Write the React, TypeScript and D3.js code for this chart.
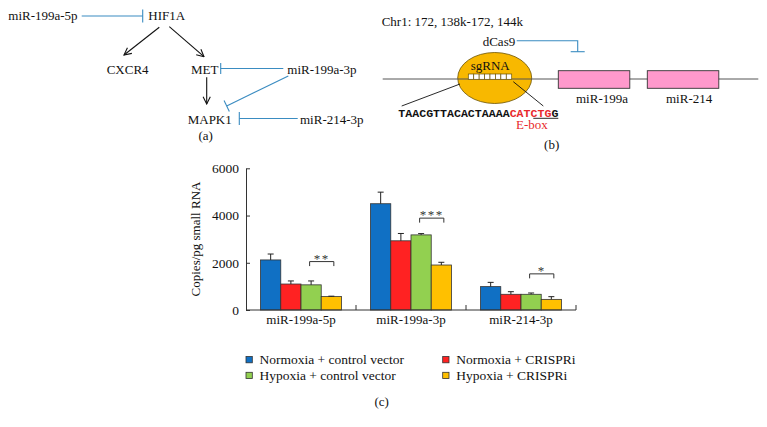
import React, { useRef, useEffect } from 'react';
import * as d3 from 'd3';

// chart data (panel c)
const categories = ['miR-199a-5p', 'miR-199a-3p', 'miR-214-3p'];
const seriesNames = [
  'Normoxia + control vector',
  'Normoxia + CRISPRi',
  'Hypoxia + control vector',
  'Hypoxia + CRISPRi',
];
const seriesColors = ['#1070c4', '#ff2222', '#92d050', '#ffc000'];
const normoxiaControl = [2120, 4500, 990];
const normoxiaControlErr = [250, 490, 180];
const normoxiaCrispri = [1100, 2930, 665];
const normoxiaCrispriErr = [130, 310, 110];
const hypoxiaControl = [1065, 3180, 665];
const hypoxiaControlErr = [165, 55, 55];
const hypoxiaCrispri = [570, 1905, 450];
const hypoxiaCrispriErr = [15, 115, 115];
const yTicks = [0, 2000, 4000, 6000];
const sigLabels = ['**', '***', '*'];
const sigLevels = [2050, 3890, 1530];

const values = [normoxiaControl, normoxiaCrispri, hypoxiaControl, hypoxiaCrispri];
const errors = [normoxiaControlErr, normoxiaCrispriErr, hypoxiaControlErr, hypoxiaCrispriErr];

const SERIF = "'Liberation Serif', 'Times New Roman', serif";
const BLUE = '#3a8cc1';

const App = () => {
  const ref = useRef<SVGSVGElement>(null);

  useEffect(() => {
    const svg = d3.select(ref.current);
    svg.selectAll('*').remove();

    const defs = svg.append('defs');
    defs.append('marker')
      .attr('id', 'arr')
      .attr('viewBox', '0 0 10 10')
      .attr('refX', 9).attr('refY', 5)
      .attr('markerWidth', 9).attr('markerHeight', 9)
      .attr('markerUnits', 'userSpaceOnUse')
      .attr('orient', 'auto')
      .append('path')
      .attr('d', 'M1,1 L9,5 L1,9')
      .attr('fill', 'none').attr('stroke', '#111').attr('stroke-width', 1.2);

    const text = (x: number, y: number, s: string, anchor = 'start', fill = '#111') =>
      svg.append('text').attr('x', x).attr('y', y).attr('text-anchor', anchor).attr('fill', fill)
        .attr('font-family', SERIF).attr('font-size', 13).text(s);

    const line = (x1: number, y1: number, x2: number, y2: number, color: string, w = 1.1) =>
      svg.append('line').attr('x1', x1).attr('y1', y1).attr('x2', x2).attr('y2', y2)
        .attr('stroke', color).attr('stroke-width', w);

    // inhibition line with a perpendicular bar at the end
    const inhibit = (x1: number, y1: number, x2: number, y2: number, half = 6.5) => {
      line(x1, y1, x2, y2, BLUE);
      const dx = x2 - x1, dy = y2 - y1;
      const len = Math.hypot(dx, dy);
      const px = -dy / len, py = dx / len;
      line(x2 - px * half, y2 - py * half, x2 + px * half, y2 + py * half, BLUE);
    };

    // ---- panel (a)
    text(8.3, 20.3, 'miR-199a-5p');
    inhibit(81.7, 16, 142.7, 16);
    text(148.3, 20.3, 'HIF1A');
    line(159.3, 27.3, 124, 55, '#111').attr('marker-end', 'url(#arr)');
    line(169.3, 26.7, 204, 56.7, '#111').attr('marker-end', 'url(#arr)');
    text(106.7, 73.5, 'CXCR4');
    text(191, 73.5, 'MET');
    inhibit(283.3, 68.5, 220.7, 68.5, 5.5);
    text(287.3, 73.5, 'miR-199a-3p');
    line(206.7, 77.3, 206.7, 104, '#111').attr('marker-end', 'url(#arr)');
    inhibit(288.3, 76, 226.7, 106, 6);
    text(187.7, 123.5, 'MAPK1');
    inhibit(297.7, 118.5, 239.3, 118.5, 6.5);
    text(300, 123.5, 'miR-214-3p');
    text(205.7, 140, '(a)', 'middle');

    // ---- panel (b)
    text(381.7, 26, 'Chr1: 172, 138k-172, 144k');
    text(482.7, 45.5, 'dCas9');
    svg.append('path')
      .attr('d', 'M516.7,40.7 L577.7,40.7 L577.7,51.7')
      .attr('fill', 'none').attr('stroke', BLUE).attr('stroke-width', 1.1);
    line(570.7, 51.7, 584.7, 51.7, BLUE);

    svg.append('ellipse')
      .attr('cx', 494.7).attr('cy', 78).attr('rx', 37).attr('ry', 25.5)
      .attr('fill', '#f8b800').attr('stroke', '#6b5200').attr('stroke-width', 0.8);
    line(382.7, 79, 758.3, 79, '#555', 1);
    text(470.7, 70, 'sgRNA');
    const ladder = d3.range(8);
    const lx = d3.scaleLinear().domain([0, 8]).range([468.3, 511.7]);
    svg.append('g').selectAll('rect').data(ladder).enter().append('rect')
      .attr('x', d => lx(d)).attr('y', 74).attr('width', lx(1) - lx(0)).attr('height', 5.3)
      .attr('fill', '#fff').attr('stroke', '#6b5200').attr('stroke-width', 0.7);

    [[558.3, 'miR-199a', 576], [647.3, 'miR-214', 666]].forEach(([x, label, tx]) => {
      svg.append('rect').attr('x', x as number).attr('y', 70.7).attr('width', 71.5).attr('height', 17.6)
        .attr('fill', '#ff99cc').attr('stroke', '#333').attr('stroke-width', 0.9);
      text(tx as number, 103, label as string);
    });
    line(460, 84, 401.7, 106, '#111', 0.9);
    line(513.3, 81.7, 543.3, 106, '#111', 0.9);

    const seq = svg.append('text').attr('x', 398.3).attr('y', 116.7)
      .attr('font-family', "'Liberation Mono', 'DejaVu Sans Mono', monospace")
      .attr('font-size', 11.6).attr('font-weight', 'bold');
    seq.append('tspan').attr('fill', '#111').text('TAACGTTACACTAAAA');
    seq.append('tspan').attr('fill', '#e8282c').text('CATCTG');
    seq.append('tspan').attr('fill', '#111').text('G');
    line(533.3, 118.3, 558.3, 118.3, '#111', 0.9);
    text(516, 128.5, 'E-box', 'start', '#e8282c');
    text(551.7, 149, '(b)', 'middle');

    // ---- panel (c): bar chart
    const x = d3.scaleBand().domain(categories).range([246, 576]).paddingInner(0).paddingOuter(0);
    const xs = d3.scaleBand<number>().domain(d3.range(seriesNames.length))
      .range([0, x.bandwidth()]).paddingInner(0).paddingOuter(0.72);
    const y = d3.scaleLinear().domain([0, 6000]).range([310, 168.3]);

    const groups = svg.append('g').selectAll('g').data(categories).enter().append('g')
      .attr('transform', d => `translate(${x(d)},0)`);

    seriesNames.forEach((_, si) => {
      groups.append('rect')
        .attr('x', xs(si)!).attr('width', xs.bandwidth())
        .attr('y', (_d, ci) => y(values[si][ci]))
        .attr('height', (_d, ci) => y(0) - y(values[si][ci]))
        .attr('fill', seriesColors[si]).attr('stroke', '#333').attr('stroke-width', 0.8);
      const cx = xs(si)! + xs.bandwidth() / 2;
      groups.append('line')
        .attr('x1', cx).attr('x2', cx)
        .attr('y1', (_d, ci) => y(values[si][ci]))
        .attr('y2', (_d, ci) => y(values[si][ci] + errors[si][ci]))
        .attr('stroke', '#222').attr('stroke-width', 1);
      groups.append('line')
        .attr('x1', cx - 3).attr('x2', cx + 3)
        .attr('y1', (_d, ci) => y(values[si][ci] + errors[si][ci]))
        .attr('y2', (_d, ci) => y(values[si][ci] + errors[si][ci]))
        .attr('stroke', '#222').attr('stroke-width', 1);
    });

    // significance brackets between hypoxia groups
    const bx1 = xs(2)! + xs.bandwidth() / 2 - 1.5;
    const bx2 = xs(3)! + xs.bandwidth() / 2 + 2.5;
    groups.append('path')
      .attr('d', (_d, ci) => {
        const yy = y(sigLevels[ci]);
        return `M${bx1},${yy + 4.5} L${bx1},${yy} L${bx2},${yy} L${bx2},${yy + 4.5}`;
      })
      .attr('fill', 'none').attr('stroke', '#333').attr('stroke-width', 1);
    groups.append('text')
      .attr('x', (bx1 + bx2) / 2).attr('y', (_d, ci) => y(sigLevels[ci]) + 1)
      .attr('text-anchor', 'middle').attr('letter-spacing', 1.5)
      .attr('font-family', SERIF).attr('font-size', 13).attr('fill', '#333')
      .text((_d, ci) => sigLabels[ci]);

    // y axis
    const yAxis = svg.append('g').attr('transform', 'translate(246,0)')
      .call(d3.axisLeft(y).tickValues(yTicks).tickFormat(d3.format('d'))
        .tickSizeInner(-4).tickSizeOuter(0).tickPadding(7));
    yAxis.attr('font-family', SERIF).attr('font-size', 13.5);
    yAxis.selectAll('text').attr('fill', '#111');
    yAxis.selectAll('line,path').attr('stroke', '#333');

    // x axis
    const xAxis = svg.append('g').attr('transform', 'translate(0,310)');
    xAxis.append('line').attr('x1', 246).attr('x2', 576).attr('stroke', '#333');
    xAxis.selectAll('.tk').data(categories).enter().append('line')
      .attr('x1', d => x(d)! + x.bandwidth()).attr('x2', d => x(d)! + x.bandwidth())
      .attr('y1', 0).attr('y2', -5).attr('stroke', '#333');
    xAxis.selectAll('.lb').data(categories).enter().append('text')
      .attr('x', d => x(d)! + x.bandwidth() / 2).attr('y', 14)
      .attr('text-anchor', 'middle').attr('fill', '#111')
      .attr('font-family', SERIF).attr('font-size', 13)
      .text(d => d);

    svg.append('text')
      .attr('transform', 'translate(200,239) rotate(-90)')
      .attr('text-anchor', 'middle').attr('fill', '#111')
      .attr('font-family', SERIF).attr('font-size', 13)
      .text('Copies/pg small RNA');

    // legend
    const lgx = [246, 442.7];
    const lgy = [359.5, 375.3];
    const lg = svg.append('g').selectAll('g').data(seriesNames).enter().append('g')
      .attr('transform', (_d, i) => `translate(${lgx[i % 2]},${lgy[Math.floor(i / 2)]})`);
    lg.append('rect').attr('x', 0).attr('y', -3).attr('width', 6.3).attr('height', 6.3)
      .attr('fill', (_d, i) => seriesColors[i]).attr('stroke', '#333').attr('stroke-width', 0.8);
    lg.append('text').attr('x', 13.5).attr('y', 4.6).attr('fill', '#111')
      .attr('font-family', SERIF).attr('font-size', 13.5).text(d => d);

    text(381.7, 406, '(c)', 'middle');
  }, []);

  return (
    <svg
      ref={ref}
      width={767}
      height={427}
      style={{ position: 'absolute', left: 0, top: 0, background: '#fff' }}
    />
  );
};

export default App;
